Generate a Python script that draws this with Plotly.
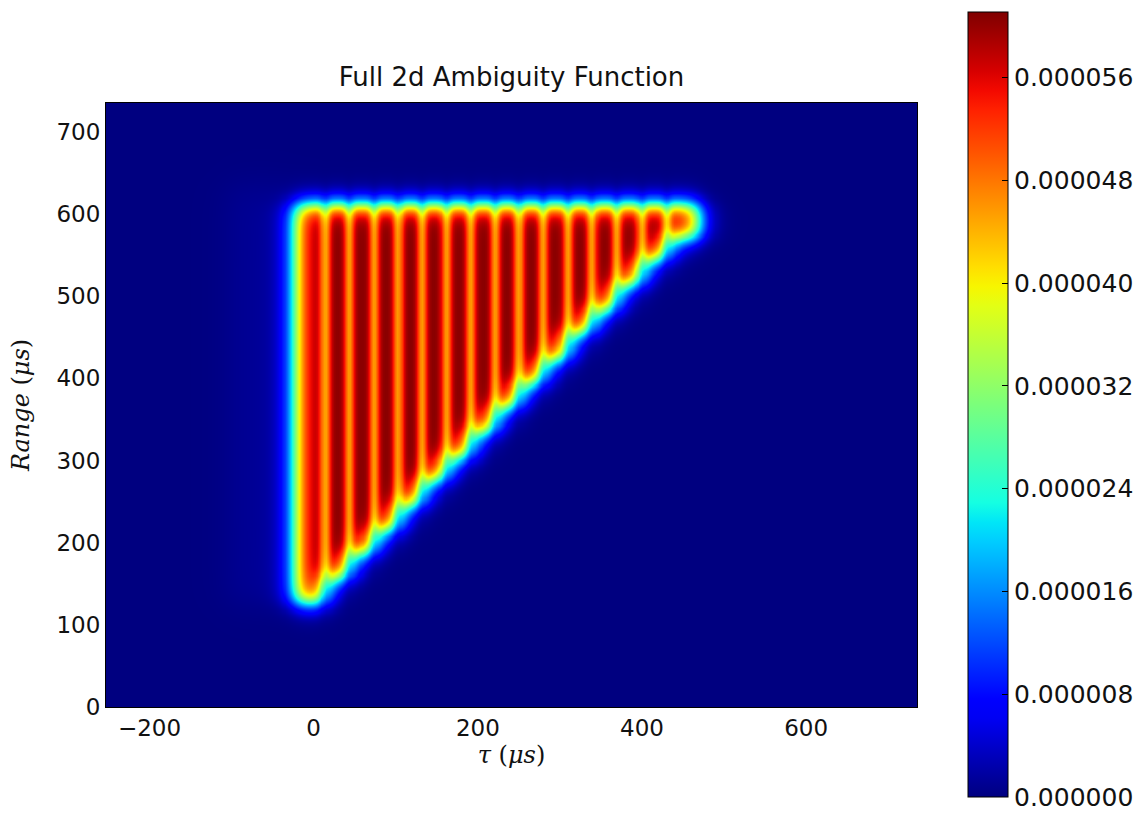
import numpy as np
import plotly.graph_objects as go

# ---- values ----
pulse_tau_us = [-1, 28, 58, 88, 117, 146, 176, 206, 235, 264, 294, 324, 353, 384, 414, 446]
stripe_bottom_us = [127, 158, 188, 216, 247, 277, 305, 336, 366, 395, 424, 456, 484, 515, 545, 572]
stripe_top_us = 612
outer_halfwidth_us = 22
peak_value = 5.92e-5
gap_depth = 0.25
sidelobe_tau_us = [-105, -25]
sidelobe_range_us = [125, 635]
sidelobe_level = 0.02

cbar_tickvals = [0.0, 0.000008, 0.000016, 0.000024, 0.000032, 0.000040, 0.000048, 0.000056]
cbar_max = 0.0000611
x_tickvals = [-200, 0, 200, 400, 600]
y_tickvals = [0, 100, 200, 300, 400, 500, 600, 700]
x_range = [-253, 735]
y_range = [0, 735]

# ---- build field ----
tau = np.arange(x_range[0], x_range[1] + 2.5, 2.5)
rng = np.arange(y_range[0], y_range[1] + 2.5, 2.5)
T, R = np.meshgrid(tau, rng)


def sig(x):
    return 1.0 / (1.0 + np.exp(-np.clip(x, -60, 60)))


c = np.array(pulse_tau_us, dtype=float)
mids = (c[:-1] + c[1:]) / 2
lefts = np.concatenate([[c[0] - outer_halfwidth_us], mids])
rights = np.concatenate([mids, [c[-1] + outer_halfwidth_us]])

w_tau = 8.0
w_rng = 7.0
field = np.zeros_like(T)
for k in range(len(c)):
    field += (sig((T - lefts[k]) / w_tau) * sig((rights[k] - T) / w_tau)
              * sig((R - stripe_bottom_us[k]) / w_rng) * sig((stripe_top_us - R) / w_rng))

dips = np.zeros_like(T)
for g in mids:
    dips += np.exp(-((T - g) ** 2) / (2 * 4.5 ** 2))
field = field * (1 - gap_depth * dips)

halo = (sidelobe_level * sig((T - sidelobe_tau_us[0]) / 12) * sig((sidelobe_tau_us[1] - T) / 12)
        * sig((R - sidelobe_range_us[0]) / 12) * sig((sidelobe_range_us[1] - R) / 12))
z = np.round(peak_value * (field + halo), 10)

# ---- matplotlib jet colormap ----
def jet_scale(n=41):
    pos = np.linspace(0, 1, n)
    r = np.interp(pos, [0, 0.35, 0.66, 0.89, 1], [0, 0, 1, 1, 0.5])
    g = np.interp(pos, [0, 0.125, 0.375, 0.64, 0.91, 1], [0, 0, 1, 1, 0, 0])
    b = np.interp(pos, [0, 0.11, 0.34, 0.65, 1], [0.5, 1, 1, 0, 0])
    return [[float(p), f"rgb({int(round(rr*255))},{int(round(gg*255))},{int(round(bb*255))})"]
            for p, rr, gg, bb in zip(pos, r, g, b)]


font_main = "DejaVu Sans"
font_math = "DejaVu Serif"
PL, PR, PT, PB = 106, 917, 103, 707  # plot-area pixel box

fig = go.Figure(go.Heatmap(
    x=tau, y=rng, z=z,
    zmin=0, zmax=cbar_max,
    colorscale=jet_scale(),
    zsmooth="best",
    hoverinfo="skip",
    colorbar=dict(
        x=(968 - PL) / (PR - PL), xanchor="left", xpad=0,
        y=(PB - 404.5) / (PB - PT), yanchor="middle", ypad=0,
        thickness=40, thicknessmode="pixels",
        len=785, lenmode="pixels",
        outlinecolor="black", outlinewidth=1,
        tickvals=cbar_tickvals,
        ticktext=[f"{v:.6f}" for v in cbar_tickvals],
        ticks="inside", ticklen=6, tickcolor="black",
        tickfont=dict(family=font_main, size=25, color="#111"),
    ),
))

fig.update_layout(
    width=1146, height=813,
    margin=dict(l=PL, r=1146 - PR, t=PT, b=813 - PB, autoexpand=False),
    paper_bgcolor="white", plot_bgcolor="white",
    title=dict(text="Full 2d Ambiguity Function", x=511.5 / 1146, xanchor="center",
               y=1 - 77 / 813, yanchor="middle", yref="container",
               font=dict(family=font_main, size=26, color="#111")),
    xaxis=dict(range=x_range, tickvals=x_tickvals, ticks="", showgrid=False, zeroline=False,
               showline=True, linecolor="black", linewidth=1, mirror=True,
               tickfont=dict(family=font_main, size=23, color="#111"),
               title=dict(text="<i>τ</i> (<i>μs</i>)", standoff=2,
                          font=dict(family=font_math, size=24, color="#111"))),
    yaxis=dict(range=y_range, tickvals=y_tickvals, ticks="", showgrid=False, zeroline=False,
               showline=True, linecolor="black", linewidth=1, mirror=True,
               tickfont=dict(family=font_main, size=23, color="#111"),
               title=dict(text="<i>Range</i> (<i>μs</i>)", standoff=20,
                          font=dict(family=font_math, size=24, color="#111"))),
)

fig.write_html("out.html", config={"displayModeBar": False},
               post_script="document.body.style.margin='0px';")
